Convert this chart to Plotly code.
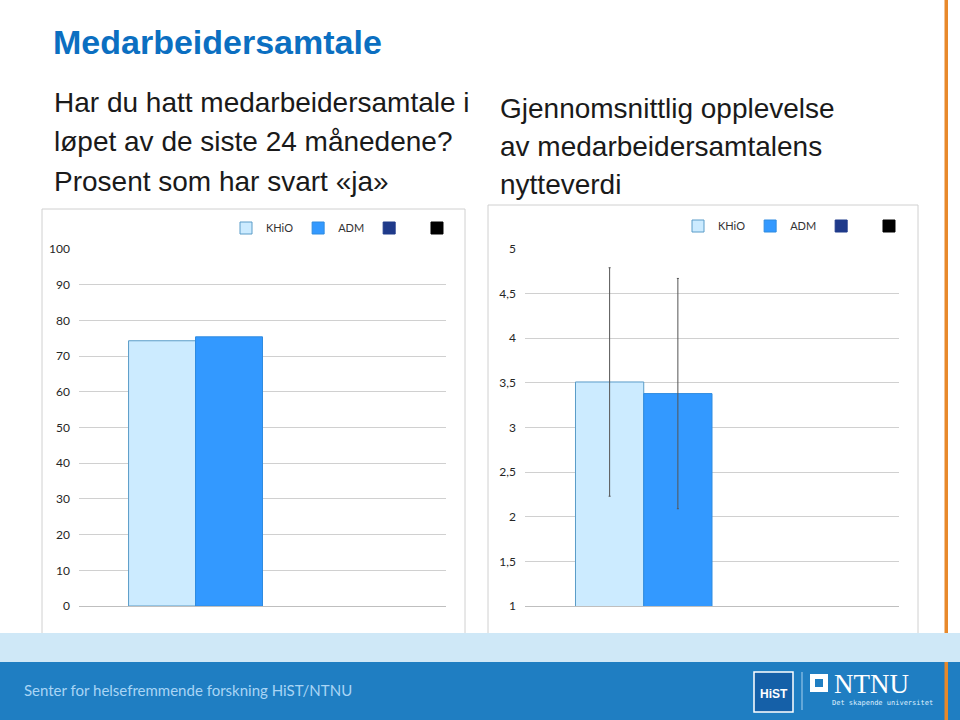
import plotly.graph_objects as go

# ---- data ----
categories = [""]
series_names = ["KHiO", "ADM", " ", " "]
series_colors = ["#CCEBFF", "#3399FF", "#1F3A8A", "#000000"]
series_lines = ["#5A9CC8", "#2F8BE0", "#1F3A8A", "#000000"]
left_values = [74.3, 75.4, None, None]        # % answering "ja"
right_values = [3.51, 3.38, None, None]       # mean usefulness
right_err = [1.28, 1.29, 0, 0]                # standard deviation

left_ticks = [0, 10, 20, 30, 40, 50, 60, 70, 80, 90, 100]
right_ticks = [1, 1.5, 2, 2.5, 3, 3.5, 4, 4.5, 5]

W, H = 960, 720
def px(x): return x / W
def py(y): return 1 - y / H

fig = go.Figure()

for i, name in enumerate(series_names):
    fig.add_trace(go.Bar(
        x=categories, y=[left_values[i]], name=name,
        marker=dict(color=series_colors[i], line=dict(color=series_lines[i], width=1)),
        xaxis="x", yaxis="y", legend="legend", showlegend=True,
    ))
for i, name in enumerate(series_names):
    fig.add_trace(go.Bar(
        x=categories, y=[right_values[i]], name=name,
        marker=dict(color=series_colors[i], line=dict(color=series_lines[i], width=1)),
        error_y=dict(type="data", array=[right_err[i]], visible=right_values[i] is not None,
                     color="#555555", thickness=1, width=1),
        xaxis="x2", yaxis="y2", legend="legend2", showlegend=True,
    ))

tickfont = dict(family="Lato, Liberation Sans, sans-serif", size=12, color="#262626")
axis_common = dict(showgrid=True, gridcolor="#D0D0D0", gridwidth=1, zeroline=False,
                   tickfont=tickfont, ticks="", showline=False)
legfont = dict(family="Lato, Liberation Sans, sans-serif", size=11, color="#333333")

fig.update_layout(
    width=W, height=H,
    margin=dict(l=0, r=0, t=0, b=0, autoexpand=False),
    paper_bgcolor="white", plot_bgcolor="white",
    separators=", ",
    barmode="group", bargap=0.27, bargroupgap=0,
    xaxis=dict(domain=[px(79), px(446)], showticklabels=False, showgrid=False,
               showline=True, linecolor="#BFBFBF", ticks="", anchor="y"),
    yaxis=dict(domain=[py(606), py(249)], range=[0, 100], tickvals=left_ticks,
               anchor="x", ticklabelstandoff=8, **axis_common),
    xaxis2=dict(domain=[px(525), px(899)], showticklabels=False, showgrid=False,
                showline=True, linecolor="#BFBFBF", ticks="", anchor="y2"),
    yaxis2=dict(domain=[py(606), py(249)], range=[1, 5], tickvals=right_ticks,
                anchor="x2", ticklabelstandoff=8, **axis_common),
    legend=dict(orientation="h", x=px(226), y=py(228), xanchor="left", yanchor="middle",
                bgcolor="rgba(0,0,0,0)", font=legfont, traceorder="normal", itemwidth=30),
    legend2=dict(orientation="h", x=px(678), y=py(226), xanchor="left", yanchor="middle",
                 bgcolor="rgba(0,0,0,0)", font=legfont, traceorder="normal", itemwidth=30),
    showlegend=True,
)

shapes = [
    # chart frames
    dict(type="rect", xref="paper", yref="paper", x0=px(42), x1=px(465), y0=py(638), y1=py(209),
         line=dict(color="#D0D0D0", width=1), layer="below"),
    dict(type="rect", xref="paper", yref="paper", x0=px(488), x1=px(918), y0=py(638), y1=py(205),
         line=dict(color="#D0D0D0", width=1), layer="below"),
    # footer bands
    dict(type="rect", xref="paper", yref="paper", x0=0, x1=1, y0=py(662), y1=py(633),
         fillcolor="#CFE8F7", line=dict(width=0), layer="below"),
    dict(type="rect", xref="paper", yref="paper", x0=0, x1=1, y0=0, y1=py(662),
         fillcolor="#1F7EC2", line=dict(width=0), layer="below"),
    # orange rule
    dict(type="rect", xref="paper", yref="paper", x0=px(944.5), x1=px(948), y0=py(633), y1=1,
         fillcolor="#E8892B", line=dict(width=0)),
    dict(type="rect", xref="paper", yref="paper", x0=px(944.5), x1=px(948), y0=0, y1=py(662),
         fillcolor="#E8892B", line=dict(width=0)),
    # HiST logo
    dict(type="rect", xref="paper", yref="paper", x0=px(754), x1=px(793), y0=py(712), y1=py(672),
         fillcolor="#1560A8", line=dict(color="white", width=1.5)),
    dict(type="line", xref="paper", yref="paper", x0=px(802), x1=px(802), y0=py(710), y1=py(672),
         line=dict(color="#A8D0EE", width=1)),
    # NTNU square icon
    dict(type="rect", xref="paper", yref="paper", x0=px(810), x1=px(828), y0=py(692), y1=py(674),
         fillcolor="white", line=dict(width=0)),
    dict(type="rect", xref="paper", yref="paper", x0=px(815), x1=px(823), y0=py(687), y1=py(679),
         fillcolor="#1F7EC2", line=dict(color="#1F7EC2", width=0)),
]
fig.update_layout(shapes=shapes)

sub = "Liberation Sans Narrow, Liberation Sans, Arial, sans-serif"
subfont = dict(family=sub, size=28, color="#1A1A1A")
annotations = [
    dict(text="<b>Medarbeidersamtale</b>", x=px(51), y=py(42), xanchor="left", yanchor="middle",
         font=dict(family="Liberation Sans, Arial, sans-serif", size=34, color="#0B6FC1")),
    dict(text="Har du hatt medarbeidersamtale i", x=px(52), y=py(103), xanchor="left", yanchor="middle", font=subfont),
    dict(text="løpet av de siste 24 månedene?", x=px(52), y=py(142), xanchor="left", yanchor="middle", font=subfont),
    dict(text="Prosent som har svart «ja»", x=px(52), y=py(181), xanchor="left", yanchor="middle", font=subfont),
    dict(text="Gjennomsnittlig opplevelse", x=px(498), y=py(108), xanchor="left", yanchor="middle", font=subfont),
    dict(text="av medarbeidersamtalens", x=px(498), y=py(147), xanchor="left", yanchor="middle", font=subfont),
    dict(text="nytteverdi", x=px(498), y=py(185), xanchor="left", yanchor="middle", font=subfont),
    dict(text="Senter for helsefremmende forskning HiST/NTNU", x=px(22), y=py(690), xanchor="left",
         yanchor="middle", font=dict(family="Lato, Open Sans, sans-serif", size=15, color="#A9D5F5")),
    dict(text="<b>HiST</b>", x=px(773.5), y=py(694), xanchor="center", yanchor="middle",
         font=dict(family="Liberation Sans, sans-serif", size=12, color="white")),
    dict(text="NTNU", x=px(832), y=py(684), xanchor="left", yanchor="middle",
         font=dict(family="Liberation Serif, DejaVu Serif, serif", size=27, color="white")),
    dict(text="Det skapende universitet", x=px(935), y=py(703), xanchor="right", yanchor="middle",
         font=dict(family="DejaVu Sans Mono, monospace", size=7, color="#DDEEFF")),
]
for a in annotations:
    a.update(xref="paper", yref="paper", showarrow=False)
fig.update_layout(annotations=annotations)

fig.write_html(
    "out.html",
    config={"displayModeBar": False},
    post_script="document.body.style.margin='0';document.body.style.overflow='hidden';",
)
